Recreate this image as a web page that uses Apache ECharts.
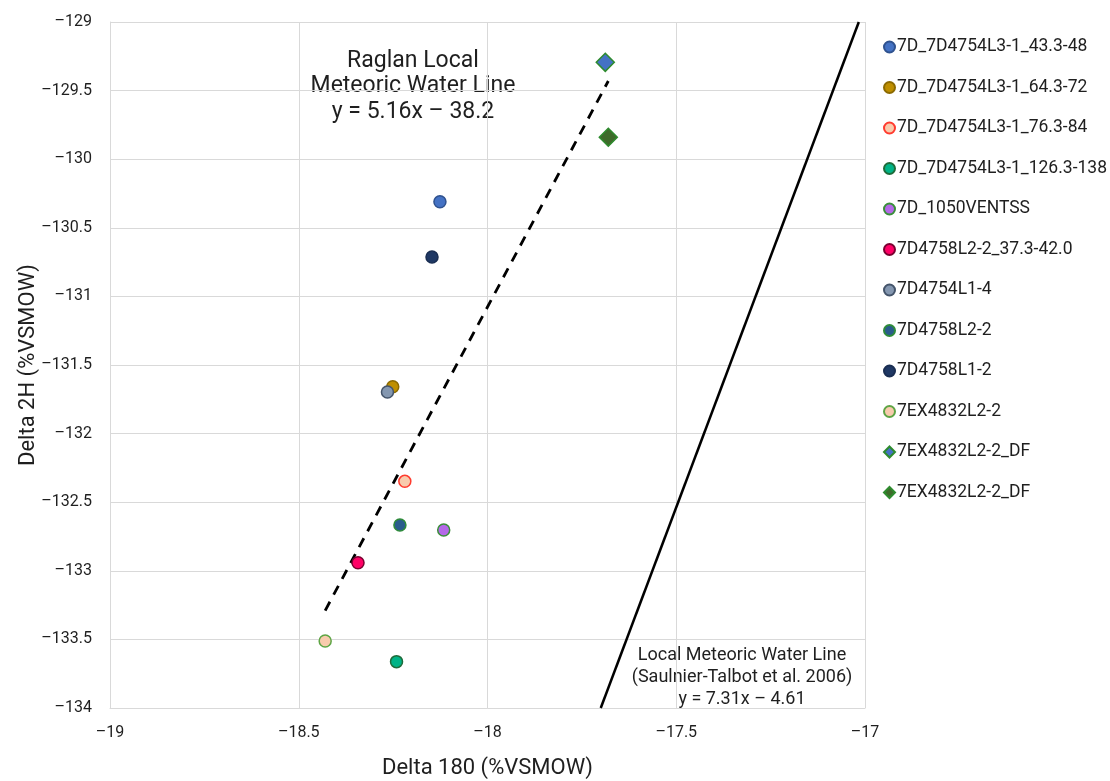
<!DOCTYPE html>
<html><head><meta charset="utf-8">
<script src="https://cdn.jsdelivr.net/npm/echarts@6/dist/echarts.min.js"></script>
<style>html,body{margin:0;padding:0;background:#fff;overflow:hidden}#c{width:1110px;height:781px}</style>
</head><body><div id="c"></div>
<script>
const seriesNames = ["7D_7D4754L3-1_43.3-48","7D_7D4754L3-1_64.3-72","7D_7D4754L3-1_76.3-84","7D_7D4754L3-1_126.3-138","7D_1050VENTSS","7D4758L2-2_37.3-42.0","7D4754L1-4","7D4758L2-2","7D4758L1-2","7EX4832L2-2","7EX4832L2-2_DF","7EX4832L2-2_DF#2"];
const delta18O = [-18.126,-18.251,-18.219,-18.241,-18.116,-18.343,-18.265,-18.232,-18.147,-18.430,-17.688,-17.680];
const delta2H = [-130.31,-131.658,-132.348,-133.662,-132.703,-132.941,-131.697,-132.666,-130.713,-133.512,-129.294,-129.840];
const fills = ["#4472C4","#BF8F00","#F8CBAD","#00B386","#B469E8","#FF0066","#8497B0","#2A5C8C","#1F3864","#F8CBAD","#4472C4","#3E6B2A"];
const borders = ["#2F528F","#8C6A00","#FF3B2F","#1E6B3A","#3A8F3A","#7A0030","#44546A","#2E8B3A","#1A2E52","#5EA545","#2E8B2E","#2E8B2E"];
const symbols = ["circle","circle","circle","circle","circle","circle","circle","circle","circle","circle","diamond","diamond"];
const symbolSizes = [12,12,12,12,12,12,12,12,12,12,18,18];
// Raglan LMWL (y = 5.16x - 38.2) endpoints
const raglanX = [-18.43,-17.68];
const raglanY = [-133.29,-129.43];
// Local MWL (Saulnier-Talbot et al. 2006, y = 7.31x - 4.61) endpoints
const lmwlX = [-17.700,-17.0164];
const lmwlY = [-134,-129];
const xTicks = [-19,-18.5,-18,-17.5,-17];
const yTicks = [-129,-129.5,-130,-130.5,-131,-131.5,-132,-132.5,-133,-133.5,-134];

const FONT = "Roboto";
const TXT = "#1f1f1f";
const chart = echarts.init(document.getElementById('c'));
const series = seriesNames.map((n,i)=>({
  name:n, type:'scatter', symbol:symbols[i], symbolSize:symbolSizes[i],
  data:[[delta18O[i],delta2H[i]]],
  itemStyle:{color:fills[i],borderColor:borders[i],borderWidth:1.5,opacity:1},
  z:5
}));
series.push({type:'line',name:'raglan',data:raglanX.map((x,i)=>[x,raglanY[i]]),symbol:'none',
  lineStyle:{color:'#000',width:2.8,type:[10,8]},z:3,silent:true});
series.push({type:'line',name:'lmwl',data:lmwlX.map((x,i)=>[x,lmwlY[i]]),symbol:'none',
  lineStyle:{color:'#000',width:2.5},z:3,silent:true});

chart.setOption({
  animation:false,
  textStyle:{fontFamily:FONT},
  grid:{left:110,top:22,width:755,height:686,containLabel:false,outerBoundsMode:'none'},
  xAxis:{type:'value',min:-19,max:-17,interval:0.5,
    name:'Delta 180 (%VSMOW)',nameLocation:'middle',nameGap:49,nameMoveOverlap:false,
    nameTextStyle:{fontSize:22,color:TXT,fontFamily:FONT},
    axisLine:{show:true,lineStyle:{color:'#d9d9d9'}},axisTick:{show:false},
    axisLabel:{fontSize:16,color:TXT,margin:17,formatter:v=>String(v).replace('-','\u2013')},
    splitLine:{show:true,lineStyle:{color:'#d9d9d9',width:1}}},
  yAxis:{type:'value',min:-134,max:-129,interval:0.5,
    name:'Delta 2H (%VSMOW)',nameLocation:'middle',nameGap:71,nameRotate:90,nameMoveOverlap:false,
    nameTextStyle:{fontSize:22,color:TXT,fontFamily:FONT},
    axisLine:{show:true,lineStyle:{color:'#d9d9d9'}},axisTick:{show:false},
    axisLabel:{fontSize:16,color:TXT,margin:18,formatter:v=>String(v).replace('-','\u2013')},
    splitLine:{show:true,lineStyle:{color:'#d9d9d9',width:1}}},
  legend:{orient:'vertical',left:878,top:32,itemGap:20.5,itemWidth:11,itemHeight:11,
    data:seriesNames,
    formatter:n=>n.replace('#2',''),
    textStyle:{fontSize:17.5,color:TXT,fontFamily:FONT,lineHeight:20,padding:[0,0,0,-3]}},
  graphic:[
    {type:'text',x:413,y:48,style:{text:'Raglan Local\nMeteoric Water Line\ny = 5.16x \u2013 38.2',
      align:'center',font:'23px '+FONT,fill:TXT,lineHeight:25.5}},
    {type:'text',x:742,y:644,style:{text:'Local Meteoric Water Line\n(Saulnier-Talbot et al. 2006)\ny = 7.31x \u2013 4.61',
      align:'center',font:'18px '+FONT,fill:TXT,lineHeight:22}}
  ],
  series:series
});
</script></body></html>
